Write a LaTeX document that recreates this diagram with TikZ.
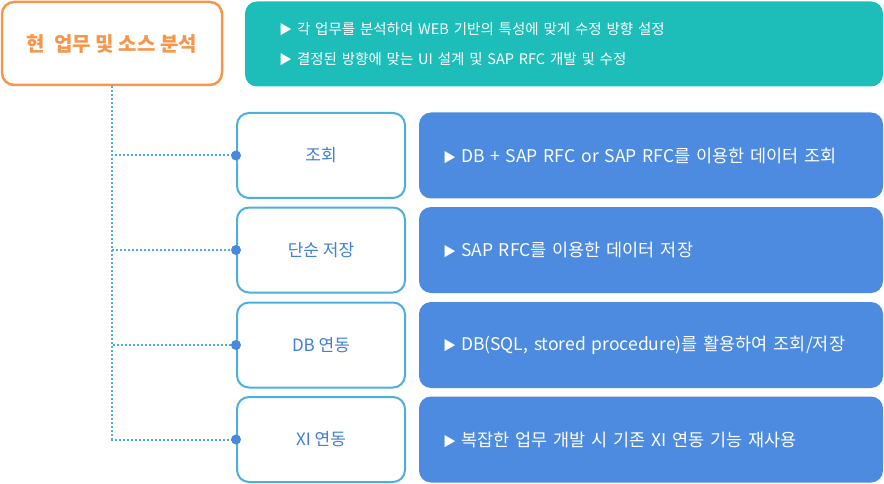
\documentclass[tikz,border=0pt]{standalone}
\usepackage{fontspec}
\setmainfont{Noto Sans CJK KR}
\definecolor{ogline}{HTML}{F7964A}
\definecolor{tealfill}{HTML}{1DBDB9}
\definecolor{bluefill}{HTML}{4C8BDF}
\definecolor{skyline}{HTML}{4DAFDD}
\definecolor{dotblue}{HTML}{4A88DD}
\definecolor{itemtext}{HTML}{3F7FD6}
\newcommand{\tri}{{\fontsize{13}{13}\selectfont ▶}\hspace{5pt}}
\tikzset{
  topbox/.style={draw=ogline, line width=2.5pt, rounded corners=12pt, fill=white,
    minimum width=220pt, minimum height=83pt, text=ogline,
    font=\fontsize{20}{22}\selectfont\bfseries},
  tealbox/.style={fill=tealfill, rounded corners=12pt, minimum width=638pt,
    minimum height=85pt, text=white, align=left, text width=570pt, inner xsep=34pt,
    font=\fontsize{14.5}{30}\selectfont},
  itembox/.style={draw=skyline, line width=2pt, rounded corners=12pt, fill=white,
    minimum width=168pt, minimum height=85pt, text=itemtext,
    font=\fontsize{17}{20}\selectfont},
  descbox/.style={fill=bluefill, rounded corners=12pt, minimum width=464pt,
    minimum height=86pt, text=white, align=left, text width=416pt, inner xsep=24pt,
    font=\fontsize{17.5}{20}\selectfont},
  link/.style={skyline, line width=2pt, dash pattern=on 2pt off 2pt},
}
\begin{document}
\begin{tikzpicture}[x=1pt, y=-1pt]
        \useasboundingbox (0,0) rectangle (884,484);
        % Define nodes
        \node[topbox] (S) at (112,43.5) {현\ \ 업무 및 소스 분석};
        \node[tealbox] (G) at (564,44) {\tri 각 업무를 분석하여 WEB 기반의 특성에 맞게 수정 방향 설정\\
            \tri 결정된 방향에 맞는 UI 설계 및 SAP RFC 개발 및 수정};

        \node[itembox] (A1) at (321,155.5) {조회};
        \node[itembox] (A2) at (321,250) {단순 저장};
        \node[itembox] (A3) at (321,345) {DB 연동};
        \node[itembox] (A4) at (321,439.5) {XI 연동};

        \node[descbox] (B1) at (651,155.5) {\tri DB + SAP RFC or SAP RFC를 이용한 데이터 조회};
        \node[descbox] (B2) at (651,250) {\tri SAP RFC를 이용한 데이터 저장};
        \node[descbox] (B3) at (651,345) {\tri DB(SQL, stored procedure)를 활용하여 조회/저장};
        \node[descbox] (B4) at (651,439.5) {\tri 복잡한 업무 개발 시 기존 XI 연동 기능 재사용};

        % Draw edges
        \foreach \i in {1,2,3,4}
            \draw[link] (S.south) |- (A\i.west);
        \foreach \i in {1,2,3,4}
            \fill[dotblue] (A\i.west) circle (5);
    \end{tikzpicture}
\end{document}
